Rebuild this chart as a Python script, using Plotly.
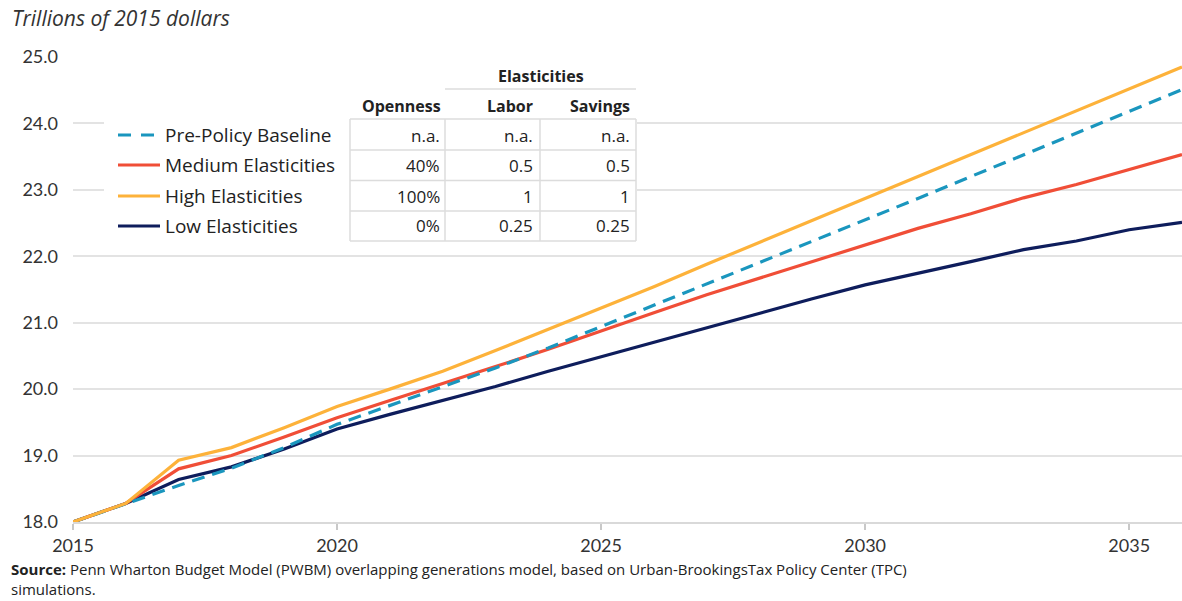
import plotly.graph_objects as go

years = list(range(2015, 2037))
baseline = [18.0, 18.28, 18.55, 18.81, 19.12, 19.47, 19.75, 20.03, 20.32, 20.62, 20.94,
            21.27, 21.59, 21.90, 22.22, 22.54, 22.87, 23.20, 23.53, 23.85, 24.18, 24.51]
medium = [18.0, 18.28, 18.80, 19.00, 19.28, 19.57, 19.83, 20.08, 20.34, 20.60, 20.88,
          21.15, 21.42, 21.67, 21.92, 22.17, 22.42, 22.64, 22.88, 23.08, 23.30, 23.53]
high = [18.0, 18.28, 18.93, 19.12, 19.42, 19.74, 20.00, 20.27, 20.58, 20.90, 21.21,
        21.54, 21.88, 22.21, 22.54, 22.87, 23.20, 23.53, 23.86, 24.19, 24.52, 24.85]
low = [18.0, 18.28, 18.64, 18.83, 19.10, 19.40, 19.62, 19.83, 20.04, 20.27, 20.49,
       20.71, 20.93, 21.14, 21.36, 21.57, 21.74, 21.92, 22.10, 22.23, 22.40, 22.51]

series_names = ["Pre-Policy Baseline", "Medium Elasticities", "High Elasticities", "Low Elasticities"]
openness = ["n.a.", "40%", "100%", "0%"]
labor = ["n.a.", "0.5", "1", "0.25"]
savings = ["n.a.", "0.5", "1", "0.25"]
y_ticks = [18, 19, 20, 21, 22, 23, 24, 25]
x_ticks = [2015, 2020, 2025, 2030, 2035]

colors = {"Pre-Policy Baseline": "#1A96BE", "Medium Elasticities": "#F04E37",
          "High Elasticities": "#FDB23A", "Low Elasticities": "#0E1D5C"}
dashes = {"Pre-Policy Baseline": "13px,8px"}

W, H = 1182, 601
L, R, T, B = 73, 0, 57, 79
PW, PH = W - L - R, H - T - B

def px(x):
    return (x - L) / PW

def py(y):
    return (H - B - y) / PH

FONT = "Lato"
TFONT = "Open Sans"
fig = go.Figure()
data = {"Pre-Policy Baseline": baseline, "Medium Elasticities": medium,
        "High Elasticities": high, "Low Elasticities": low}
for name in ["Low Elasticities", "Medium Elasticities", "Pre-Policy Baseline", "High Elasticities"]:
    fig.add_trace(go.Scatter(x=years, y=data[name], mode="lines", name=name,
                             line=dict(color=colors[name], width=3.2, dash=dashes.get(name, "solid")),
                             showlegend=False))

shapes = []
annotations = []
# white box behind legend/table
shapes.append(dict(type="rect", xref="paper", yref="paper", x0=px(104), x1=px(637), y0=py(242), y1=py(117),
                   fillcolor="white", line=dict(width=0), layer="above"))
# table grid
cols = [350, 445, 540, 636]
rows_y = [119, 150, 180.5, 211, 241]
for yy in rows_y:
    shapes.append(dict(type="line", xref="paper", yref="paper", x0=px(350), x1=px(636), y0=py(yy), y1=py(yy),
                       line=dict(color="#DCDCDC", width=1.5), layer="above"))
for xx in cols:
    shapes.append(dict(type="line", xref="paper", yref="paper", x0=px(xx), x1=px(xx), y0=py(119), y1=py(241),
                       line=dict(color="#DCDCDC", width=1.5), layer="above"))
# line under Elasticities
shapes.append(dict(type="line", xref="paper", yref="paper", x0=px(445), x1=px(636), y0=py(89), y1=py(89),
                   line=dict(color="#DCDCDC", width=1.5), layer="above"))

row_centers = [135, 165, 196, 226]
for i, name in enumerate(series_names):
    yc = row_centers[i]
    shapes.append(dict(type="line", xref="paper", yref="paper", x0=px(118), x1=px(160), y0=py(yc), y1=py(yc),
                       line=dict(color=colors[name], width=3.2,
                                 dash="13px,10px" if name in dashes else "solid"),
                       layer="above"))
    annotations.append(dict(xref="paper", yref="paper", x=px(163), y=py(yc), text=name, showarrow=False,
                            xanchor="left", yanchor="middle", font=dict(family=TFONT, size=19, color="#222")))
    for xr, vals in [(442, openness), (535, labor), (632, savings)]:
        annotations.append(dict(xref="paper", yref="paper", x=px(xr), y=py(yc), text=vals[i], showarrow=False,
                                xanchor="right", yanchor="middle", font=dict(family=TFONT, size=17, color="#222")))

for xr, txt in [(443, "Openness"), (535, "Labor"), (632, "Savings")]:
    annotations.append(dict(xref="paper", yref="paper", x=px(xr), y=py(106), text="<b>" + txt + "</b>",
                            showarrow=False, xanchor="right", yanchor="middle",
                            font=dict(family=TFONT, size=16, color="#222")))
annotations.append(dict(xref="paper", yref="paper", x=px(541), y=py(76), text="<b>Elasticities</b>",
                        showarrow=False, xanchor="center", yanchor="middle",
                        font=dict(family=TFONT, size=16, color="#222")))

# title
annotations.append(dict(xref="paper", yref="paper", x=px(10), y=py(18), text="<i>Trillions of 2015 dollars</i>",
                        showarrow=False, xanchor="left", yanchor="middle",
                        font=dict(family=TFONT, size=21, color="#333")))
# source
annotations.append(dict(xref="paper", yref="paper", x=px(10), y=py(600), align="left",
                        text="<b>Source:</b> Penn Wharton Budget Model (PWBM) overlapping generations model, based on Urban-BrookingsTax Policy Center (TPC)<br>simulations.",
                        showarrow=False, xanchor="left", yanchor="bottom", borderpad=0,
                        font=dict(family=TFONT, size=15, color="#222")))

fig.update_layout(
    width=W, height=H, margin=dict(l=L, r=R, t=T, b=B),
    paper_bgcolor="white", plot_bgcolor="white",
    shapes=shapes, annotations=annotations, showlegend=False,
    xaxis=dict(range=[2015, 2036], tickvals=x_ticks, ticktext=[str(v) for v in x_ticks],
               showgrid=False, zeroline=False, showline=True, linecolor="#D9D9D9", linewidth=2,
               ticks="outside", ticklen=6, tickcolor="#C8C8C8", tickwidth=1.5,
               tickfont=dict(family=FONT, size=18, color="#333")),
    yaxis=dict(range=[18, 25], tickvals=y_ticks, ticktext=[f"{v:.1f}" for v in y_ticks],
               showgrid=True, gridcolor="#E3E3E3", gridwidth=1.5, zeroline=False, showline=False,
               ticks="", ticklabelstandoff=14,
               tickfont=dict(family=FONT, size=18, color="#333")),
)

fig.write_html("out.html")
